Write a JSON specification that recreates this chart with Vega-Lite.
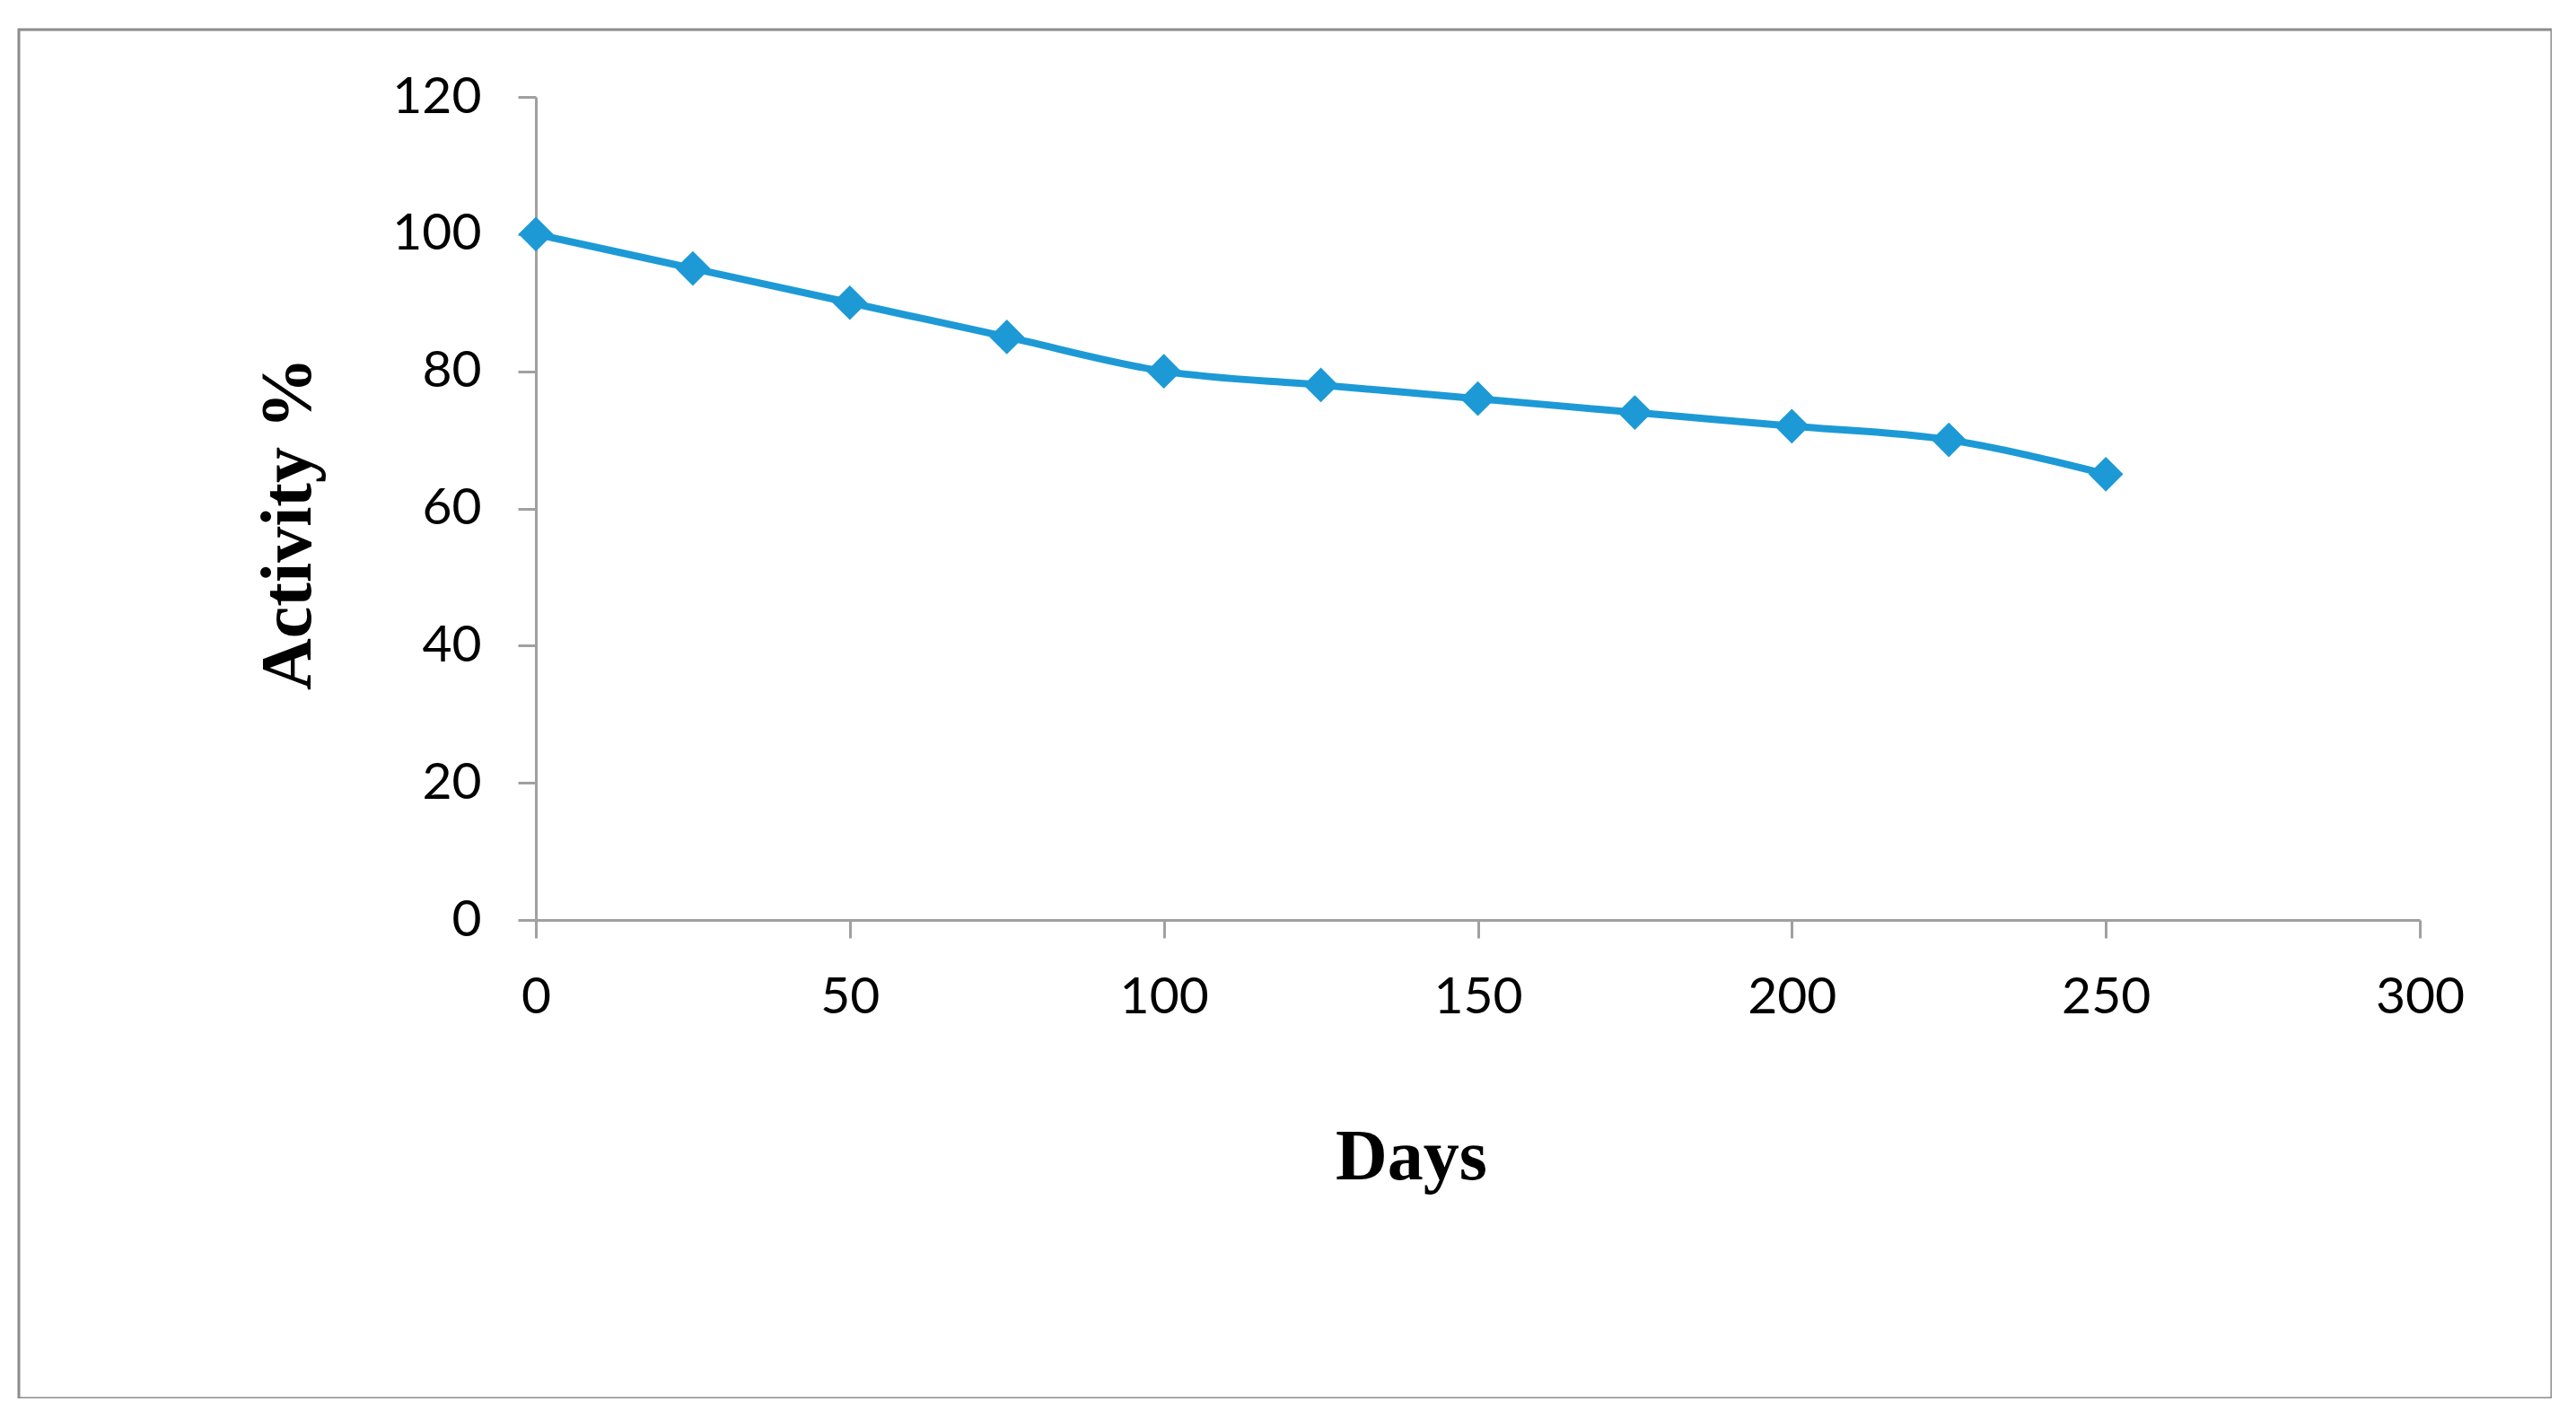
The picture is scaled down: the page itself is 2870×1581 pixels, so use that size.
{
  "$schema": "https://vega.github.io/schema/vega-lite/v6.json",
  "width": 2822,
  "height": 1525,
  "autosize": {"type": "none"},
  "padding": {"left": 21, "top": 33, "right": 0, "bottom": 0},
  "background": "white",
  "config": {
    "view": {"stroke": "#8c8c8c", "strokeWidth": 3},
    "axis": {"grid": false, "domainColor": "#a0a0a0", "domainWidth": 3, "tickColor": "#a0a0a0", "tickWidth": 3, "tickSize": 20,
      "labelFont": "Lato", "labelFontSize": 57, "labelColor": "#000000", "labelFlush": false, "labelOverlap": false,
      "titleFont": "Liberation Serif", "titleFontWeight": "bold", "titleFontSize": 80, "titleColor": "#000000"}
  },
  "data": {"values": [
    {"days": 0, "activity": 100},
    {"days": 25, "activity": 95},
    {"days": 50, "activity": 90},
    {"days": 75, "activity": 85},
    {"days": 100, "activity": 80},
    {"days": 125, "activity": 78},
    {"days": 150, "activity": 76},
    {"days": 175, "activity": 74},
    {"days": 200, "activity": 72},
    {"days": 225, "activity": 70},
    {"days": 250, "activity": 65}
  ]},
  "encoding": {
    "x": {"field": "days", "type": "quantitative",
      "scale": {"domain": [0, 300], "nice": false, "zero": false, "range": [576, 2675]},
      "axis": {"orient": "bottom", "offset": -533, "values": [0, 50, 100, 150, 200, 250, 300], "labelPadding": 38,
        "title": "Days", "titleX": 1551, "titleY": 288, "titleBaseline": "alphabetic", "titleAlign": "center", "titleAnchor": null}},
    "y": {"field": "activity", "type": "quantitative",
      "scale": {"domain": [0, 120], "nice": false, "range": [992, 75]},
      "axis": {"orient": "left", "offset": -576, "values": [0, 20, 40, 60, 80, 100, 120], "labelPadding": 41,
        "title": "Activity %", "titleX": -252, "titleY": 550, "titleAngle": -90, "titleBaseline": "alphabetic", "titleAlign": "center", "titleAnchor": null}}
  },
  "layer": [
    {"mark": {"type": "line", "color": "#1d9ad6", "strokeWidth": 8, "interpolate": "monotone"}},
    {"mark": {"type": "point", "shape": "diamond", "filled": true, "opacity": 1, "color": "#1d9ad6", "size": 1500}}
  ]
}
